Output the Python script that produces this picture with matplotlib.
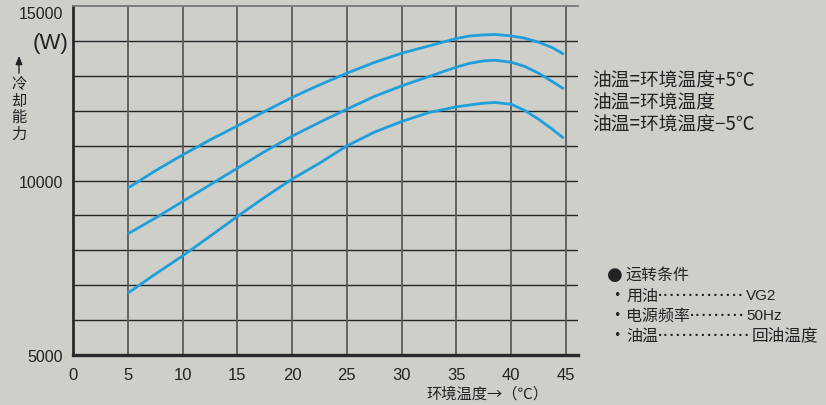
import matplotlib
matplotlib.use("Agg")
import matplotlib.pyplot as plt

# Ambient temperature (°C) and cooling capacity (W) for three oil-temperature cases
temps = [5, 7.5, 10, 12.5, 15, 17.5, 20, 22.5, 25, 27.5, 30, 32.5, 35,
         36.25, 37.5, 38.5, 40, 41.25, 42.5, 43.75, 44.8]
cap_plus5 = [9780, 10275, 10733, 11163, 11564, 11980, 12380, 12739, 13074, 13381,
             13647, 13857, 14070, 14143, 14172, 14183, 14143, 14077, 13962, 13810, 13618]
cap_equal = [8470, 8920, 9398, 9874, 10352, 10830, 11270, 11665, 12043, 12407,
             12711, 12980, 13250, 13361, 13427, 13447, 13390, 13266, 13074, 12836, 12624]
cap_minus5 = [6771, 7315, 7840, 8400, 8969, 9520, 10040, 10496, 10991, 11384,
              11690, 11948, 12110, 12166, 12215, 12235, 12186, 12005, 11756, 11470, 11212]

series_labels = ["油温=环境温度+5℃", "油温=环境温度", "油温=环境温度−5℃"]

x_ticks = [0, 5, 10, 15, 20, 25, 30, 35, 40, 45]
y_ticks = [5000, 10000, 15000]
y_grid = [6000, 7000, 8000, 9000, 10000, 11000, 12000, 13000, 14000]
x_grid = [5, 10, 15, 20, 25, 30, 35, 40, 45]

cond_title = "运转条件"
cond_items = ["用油", "电源频率", "油温"]
cond_values = ["VG2", "50Hz", "回油温度"]

BG = "#cfcfca"
BLUE = "#1e9fdc"
INK = "#222222"
CJK = ["Noto Sans CJK SC", "DejaVu Sans"]
NUM = ["Liberation Sans", "DejaVu Sans"]

W, H = 826, 406
fig = plt.figure(figsize=(W / 100, H / 100), dpi=100, facecolor=BG)
renderer = fig.canvas.get_renderer()

def px(x, y):
    return x / W, 1 - y / H

left, right, top, bottom = 73, 578, 7, 356
ax = fig.add_axes([left / W, 1 - bottom / H, (right - left) / W, (bottom - top) / H])
ax.set_facecolor(BG)
ax.set_xlim(0, 46.1)
ax.set_ylim(5000, 15000)

for v in y_grid:
    ax.axhline(v, color="#262626", lw=1.0, zorder=1)
for v in x_grid:
    ax.axvline(v, color="#5a5a5a", lw=1.3, zorder=1)

for ys in (cap_plus5, cap_equal, cap_minus5):
    ax.plot(temps, ys, color=BLUE, lw=2.0, solid_capstyle="butt", zorder=3)

ax.spines["right"].set_visible(False)
ax.spines["top"].set_color("#777777")
ax.spines["top"].set_linewidth(1.3)
ax.spines["left"].set_color("#2a2a2a")
ax.spines["left"].set_linewidth(2.0)
ax.spines["bottom"].set_color("#2a2a2a")
ax.spines["bottom"].set_linewidth(2.4)

ax.set_xticks(x_ticks)
ax.set_xticklabels([str(t) for t in x_ticks], fontfamily=NUM, fontsize=12, color=INK)
ax.set_yticks(y_ticks)
ax.set_yticklabels([str(t) for t in y_ticks], fontfamily=NUM, fontsize=11.5, color=INK)
ax.tick_params(axis="x", length=0, pad=9)
ax.tick_params(axis="y", length=0, pad=7)
ax.get_yticklabels()[-1].set_verticalalignment("top")

# Y-axis unit and vertical caption
fig.text(*px(51, 44), "(W)", fontfamily=NUM, fontsize=16, color=INK,
         ha="center", va="center")
ax.annotate("", xy=(19, H - 54), xytext=(19, H - 77), xycoords="figure pixels",
            textcoords="figure pixels",
            arrowprops=dict(arrowstyle="-|>,head_length=0.5,head_width=0.2",
                            color=INK, lw=1.0))
fig.text(*px(19, 76), "冷\n却\n能\n力", fontfamily=CJK, fontsize=11, color=INK,
         ha="center", va="top", linespacing=0.98)

# X-axis caption
fig.text(*px(487, 394), "环境温度→（℃）", fontfamily=CJK, fontsize=11, color=INK,
         ha="center", va="center")

# Series captions
for i, lab in enumerate(series_labels):
    fig.text(*px(592, 81 + 22 * i), lab, fontfamily=CJK, fontsize=13.5, color=INK,
             ha="left", va="center")

# Operating conditions
fig.text(*px(607, 275), "●", fontfamily=["DejaVu Sans"], fontsize=13, color=INK,
         ha="left", va="center")
fig.text(*px(625, 275), cond_title, fontfamily=CJK, fontsize=11.5, color=INK,
         ha="left", va="center")
dot_ends = [746, 746, 752]
value_x = [746, 746, 752]
for i, (item, val) in enumerate(zip(cond_items, cond_values)):
    y = 296 + 20 * i
    fig.text(*px(613, y), "•", fontfamily=["DejaVu Sans"], fontsize=9, color=INK,
             ha="left", va="center")
    t = fig.text(*px(626, y), item, fontfamily=CJK, fontsize=11.5, color=INK,
                 ha="left", va="center")
    start = t.get_window_extent(renderer).x1 - 1
    leader = fig.text(*px(start, y + 1), "·", fontfamily=["DejaVu Sans"],
                      fontsize=14, color=INK, ha="left", va="center")
    while leader.get_window_extent(renderer).x1 < dot_ends[i]:
        leader.set_text(leader.get_text() + "·")
    leader.set_text(leader.get_text()[:-1])
    fig.text(*px(value_x[i], y), val, fontfamily=NUM if i < 2 else CJK,
             fontsize=11 if i < 2 else 12, color=INK, ha="left", va="center")

fig.savefig("out.png", dpi=100, facecolor=BG)
